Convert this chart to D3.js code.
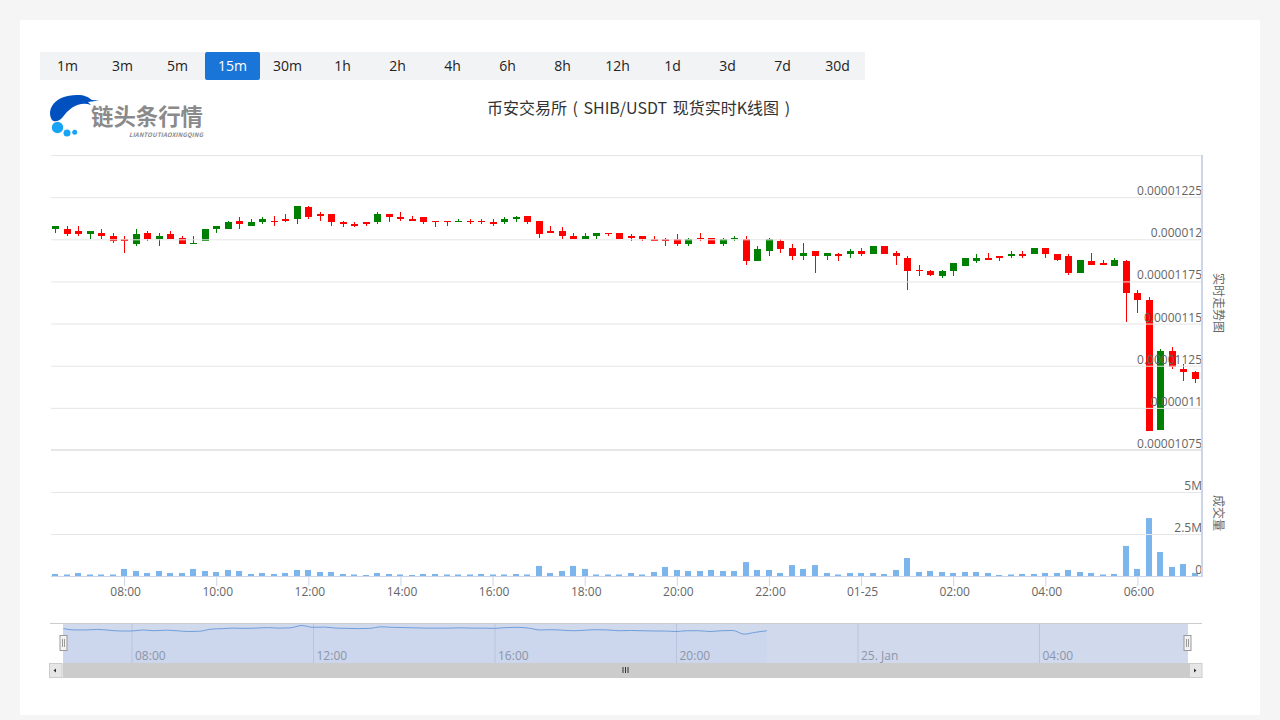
<!DOCTYPE html>
<html>
  <head>
    <meta charset="utf-8" />
    <script src="https://cdn.jsdelivr.net/npm/d3@7/dist/d3.min.js"></script>
    <style>
      * {
        margin: 0;
        padding: 0;
      }
      body {
        width: 1280px;
        height: 720px;
        overflow: hidden;
        background-color: #f5f5f5;
        font-family: "Noto Sans CJK SC", "Noto Sans", sans-serif;
      }
      .panel {
        position: absolute;
        left: 20px;
        top: 20px;
        width: 1240px;
        height: 695px;
        background-color: white;
      }
      .tabs {
        position: absolute;
        left: 40px;
        top: 52px;
        display: flex;
        background-color: #f2f3f5;
      }
      .tab {
        width: 55px;
        height: 28px;
        line-height: 28px;
        text-align: center;
        font-family: "Open Sans", sans-serif;
        font-size: 14px;
        color: #222;
      }
      .tab.active {
        background-color: #1976d8;
        color: white;
        border-radius: 2px;
      }
      #chart {
        position: absolute;
        left: 0;
        top: 0;
      }
    </style>
  </head>
  <body>
    <div class="panel"></div>
    <div class="tabs" id="tabs"></div>
    <svg id="chart" width="1280" height="720"></svg>

    <script>
      const intervals = ["1m", "3m", "5m", "15m", "30m", "1h", "2h", "4h", "6h", "8h", "12h", "1d", "3d", "7d", "30d"];
      const activeInterval = "15m";

      // prices are in 1e-8 USDT, one candle every 15 minutes
      const opens = [
        1206, 1206, 1205, 1203, 1204, 1202, 1200, 1197, 1204, 1200,
        1203, 1201, 1197, 1199, 1206, 1206, 1211, 1208, 1210, 1211,
        1212, 1212, 1219, 1215, 1215, 1210, 1209, 1210, 1210, 1215,
        1213, 1212, 1213, 1211, 1211, 1210, 1211, 1211, 1210, 1210,
        1212, 1214, 1211, 1205, 1205, 1202, 1200, 1202, 1204, 1204,
        1202, 1202, 1200, 1200, 1200, 1197, 1201, 1201, 1197, 1200,
        1200, 1187, 1193, 1199, 1195, 1190, 1193, 1190, 1191, 1191,
        1193, 1191, 1196, 1192, 1189, 1182, 1181, 1178, 1181, 1184,
        1187, 1189, 1190, 1190, 1191, 1191, 1195, 1191, 1190, 1180,
        1187, 1186, 1184, 1187, 1168, 1164, 1087, 1134, 1123, 1121,
      ];
      const highs = [
        1208, 1208, 1208, 1205, 1206, 1204, 1202, 1206, 1205, 1204,
        1205, 1202, 1202, 1206, 1208, 1211, 1213, 1212, 1213, 1214,
        1215, 1220, 1220, 1216, 1215, 1211, 1210, 1210, 1216, 1215,
        1216, 1214, 1213, 1211, 1211, 1212, 1212, 1212, 1212, 1213,
        1214, 1214, 1211, 1208, 1207, 1204, 1204, 1204, 1204, 1204,
        1203, 1202, 1202, 1201, 1203, 1201, 1204, 1201, 1201, 1202,
        1202, 1196, 1201, 1200, 1197, 1198, 1193, 1192, 1192, 1194,
        1195, 1196, 1196, 1193, 1190, 1185, 1182, 1182, 1186, 1189,
        1191, 1192, 1190, 1193, 1193, 1195, 1195, 1191, 1191, 1188,
        1192, 1188, 1189, 1188, 1170, 1166, 1135, 1136, 1126, 1122,
      ];
      const lows = [
        1204, 1202, 1202, 1200, 1200, 1198, 1192, 1196, 1199, 1196,
        1200, 1197, 1197, 1199, 1204, 1206, 1206, 1208, 1209, 1208,
        1210, 1209, 1212, 1211, 1208, 1207, 1207, 1208, 1209, 1210,
        1211, 1211, 1209, 1207, 1208, 1210, 1209, 1209, 1208, 1209,
        1210, 1209, 1201, 1204, 1200, 1200, 1200, 1200, 1202, 1200,
        1199, 1199, 1199, 1196, 1196, 1196, 1199, 1197, 1196, 1199,
        1185, 1187, 1190, 1192, 1188, 1188, 1180, 1188, 1187, 1189,
        1190, 1191, 1191, 1185, 1170, 1178, 1178, 1177, 1178, 1184,
        1186, 1188, 1187, 1189, 1189, 1191, 1189, 1187, 1179, 1180,
        1185, 1185, 1184, 1151, 1156, 1086, 1087, 1123, 1116, 1115,
      ];
      const closes = [
        1208, 1203, 1203, 1205, 1202, 1199, 1199, 1203, 1200, 1202,
        1200, 1197, 1198, 1206, 1208, 1210, 1209, 1210, 1212, 1210,
        1211, 1220, 1213, 1214, 1210, 1209, 1208, 1209, 1215, 1213,
        1212, 1211, 1210, 1210, 1210, 1211, 1210, 1210, 1209, 1212,
        1213, 1210, 1203, 1204, 1202, 1200, 1202, 1204, 1203, 1200,
        1201, 1200, 1199, 1199, 1197, 1200, 1200, 1197, 1200, 1201,
        1187, 1194, 1200, 1194, 1190, 1192, 1190, 1192, 1190, 1193,
        1191, 1196, 1191, 1190, 1181, 1181, 1179, 1181, 1186, 1189,
        1189, 1188, 1189, 1191, 1190, 1195, 1191, 1188, 1180, 1188,
        1185, 1185, 1188, 1168, 1164, 1086, 1134, 1124, 1121, 1117,
      ];
      // volume in millions
      const volumes = [
        0.12, 0.09, 0.18, 0.09, 0.09, 0.09, 0.42, 0.3, 0.18, 0.3,
        0.18, 0.18, 0.42, 0.3, 0.24, 0.36, 0.3, 0.12, 0.18, 0.12,
        0.18, 0.36, 0.36, 0.24, 0.24, 0.12, 0.09, 0.06, 0.18, 0.12,
        0.09, 0.06, 0.12, 0.12, 0.09, 0.09, 0.09, 0.12, 0.09, 0.09,
        0.12, 0.09, 0.6, 0.18, 0.3, 0.6, 0.42, 0.09, 0.09, 0.09,
        0.18, 0.09, 0.24, 0.54, 0.36, 0.3, 0.3, 0.36, 0.3, 0.3,
        0.83, 0.36, 0.36, 0.18, 0.65, 0.42, 0.65, 0.18, 0.09, 0.18,
        0.18, 0.18, 0.12, 0.36, 1.07, 0.24, 0.3, 0.24, 0.18, 0.24,
        0.24, 0.18, 0.06, 0.09, 0.12, 0.12, 0.18, 0.18, 0.36, 0.24,
        0.18, 0.09, 0.12, 1.79, 0.42, 3.45, 1.43, 0.54, 0.71, 0.18,
      ];
      const priceTicks = [1075, 1100, 1125, 1150, 1175, 1200, 1225, 1250];
      const volumeTicks = [0, 2.5, 5];
      const titleText = "币安交易所 ( SHIB/USDT 现货实时K线图 )";

      const axisFont = '"Open Sans", sans-serif';

      const times = d3.timeMinute.range(new Date(2021, 0, 24, 6, 30), new Date(2021, 0, 25, 7, 30), 15);
      const candles = times.map((t, i) => ({
        t: t,
        o: opens[i],
        h: highs[i],
        l: lows[i],
        c: closes[i],
        v: volumes[i],
      }));

      d3.select("#tabs")
        .selectAll("div")
        .data(intervals)
        .enter()
        .append("div")
        .attr("class", (d) => (d == activeInterval ? "tab active" : "tab"))
        .text((d) => d);

      const svg = d3.select("#chart");
      const left = 51;
      const right = 1202;

      const x = d3
        .scaleTime()
        .domain([times[0], times[times.length - 1]])
        .range([55, 1195]);
      const y = d3.scaleLinear().domain([1075, 1250]).range([450, 155]);
      const yVol = d3.scaleLinear().domain([0, 5]).range([576, 492]);
      const crisp = (v) => Math.round(v) + 0.5;

      // title
      svg
        .append("text")
        .attr("x", 638.5)
        .attr("y", 114)
        .attr("text-anchor", "middle")
        .attr("font-size", 16)
        .attr("word-spacing", 2)
        .attr("fill", "#333")
        .text(titleText);

      // logo
      const logo = svg.append("g");
      logo
        .append("path")
        .attr("d", "M52,120 C46,110 54,95 77,95 C85,95 88,97 92,100 L99,100.5 L88,102 L91,105 C80,101 70,107 62,118 C58,122 54,122 52,120 Z")
        .attr("fill", "#0050c0");
      logo
        .selectAll("circle")
        .data([[57.5, 127.5, 5.7], [67, 133, 3.5], [74.7, 132.3, 2.5]])
        .enter()
        .append("circle")
        .attr("cx", (d) => d[0])
        .attr("cy", (d) => d[1])
        .attr("r", (d) => d[2])
        .attr("fill", "#18a4f6");
      logo
        .append("text")
        .attr("x", 91)
        .attr("y", 125)
        .attr("font-size", 22.4)
        .attr("font-weight", 700)
        .attr("fill", "#8a8a8a")
        .text("链头条行情");
      logo
        .append("text")
        .attr("x", 129)
        .attr("y", 136.5)
        .attr("font-size", 6)
        .attr("font-weight", 700)
        .attr("font-style", "italic")
        .attr("fill", "#8a8a8a")
        .attr("textLength", 74)
        .text("LIANTOUTIAOXINGQING");

      // grid + price labels
      const priceAxis = d3
        .axisLeft(y)
        .tickValues(priceTicks)
        .tickSize(right - left)
        .tickFormat((d) => (d == 1250 ? "" : (d / 1e8).toFixed(8).replace(/0+$/, "")));
      const gPrice = svg
        .append("g")
        .attr("transform", "translate(" + right + ",0)")
        .call(priceAxis);
      const volAxis = d3
        .axisLeft(yVol)
        .tickValues(volumeTicks)
        .tickSize(right - left)
        .tickFormat((d) => (d == 0 ? "0" : d + "M"));
      const gVol = svg
        .append("g")
        .attr("transform", "translate(" + right + ",0)")
        .call(volAxis);
      [gPrice, gVol].forEach((g) => {
        g.select(".domain").remove();
        g.selectAll(".tick line").attr("stroke", "#e6e6e6");
      });

      // volume bars
      svg
        .append("g")
        .selectAll("rect")
        .data(candles)
        .enter()
        .append("rect")
        .attr("x", (d) => crisp(x(d.t)) - 3.5)
        .attr("y", (d) => yVol(d.v))
        .attr("width", 6)
        .attr("height", (d) => yVol(0) - yVol(d.v))
        .attr("fill", "#7cb5ec");

      // candles
      const candle = svg.append("g").selectAll("g").data(candles).enter().append("g");
      const candleColor = (d) => (d.c >= d.o ? "#008000" : "#ff0000");
      candle
        .append("line")
        .attr("x1", (d) => crisp(x(d.t)))
        .attr("x2", (d) => crisp(x(d.t)))
        .attr("y1", (d) => Math.round(y(d.h)))
        .attr("y2", (d) => Math.round(y(d.l)))
        .attr("stroke", candleColor);
      candle
        .append("rect")
        .attr("x", (d) => crisp(x(d.t)) - 3.5)
        .attr("y", (d) => Math.round(y(Math.max(d.o, d.c))))
        .attr("width", 7)
        .attr("height", (d) => Math.max(1, Math.round(y(Math.min(d.o, d.c))) - Math.round(y(Math.max(d.o, d.c)))))
        .attr("fill", candleColor);

      // labels sit over the marks, right aligned just above their grid line
      [gPrice, gVol].forEach((g) => {
        g.raise();
        g.selectAll(".tick line").lower();
        g.selectAll(".tick text")
          .attr("x", 0)
          .attr("dy", "-2.5")
          .attr("text-anchor", "end")
          .attr("font-size", 12)
          .attr("font-family", axisFont)
          .attr("fill", "#666");
      });

      // pane separators and right axis line
      svg.append("line").attr("x1", left).attr("x2", right).attr("y1", 450).attr("y2", 450).attr("stroke", "#e6e6e6").attr("stroke-width", 2);
      svg.append("line").attr("x1", right).attr("x2", right).attr("y1", 155).attr("y2", 577).attr("stroke", "#ccd6eb").attr("stroke-width", 2);

      // time axis
      const timeAxis = d3
        .axisBottom(x)
        .ticks(d3.timeHour.every(2))
        .tickSize(10)
        .tickPadding(1)
        .tickFormat((d) => (d.getHours() == 0 ? "01-25" : d3.timeFormat("%H:%M")(d)));
      const gTime = svg.append("g").attr("transform", "translate(0,576)").call(timeAxis);
      gTime.select(".domain").attr("d", "M" + left + ",0.5H" + right).attr("stroke", "#ccd6eb").attr("stroke-width", 1);
      gTime.selectAll(".tick line").attr("stroke", "#ccd6eb");
      gTime.selectAll(".tick text").attr("dx", 1).attr("font-size", 12).attr("font-family", axisFont).attr("fill", "#666");

      // rotated axis titles
      [["实时走势图", 303], ["成交量", 513]].forEach((d) => {
        svg
          .append("text")
          .attr("transform", "translate(1214," + d[1] + ") rotate(90)")
          .attr("text-anchor", "middle")
          .attr("font-size", 12)
          .attr("fill", "#666")
          .text(d[0]);
      });

      // navigator, same data on its own scale
      const navTop = 624;
      const navBottom = 663;
      const navX = d3
        .scaleTime()
        .domain([new Date(2021, 0, 24, 8), new Date(2021, 0, 25, 4)])
        .range([131.5, 1039]);
      const navY = d3.scaleLinear().domain([1086, 1220]).range([660.5, 625.5]);
      const navData = candles.slice(0, 63);

      svg.append("rect").attr("x", 63).attr("y", navTop).attr("width", 1125).attr("height", navBottom - navTop).attr("fill", "#d1d9ed");
      svg
        .append("path")
        .datum(navData)
        .attr("fill", "#7cb5ec")
        .attr("fill-opacity", 0.05)
        .attr("d", d3.area().x((d) => navX(d.t)).y0(navBottom).y1((d) => navY(d.c)).curve(d3.curveMonotoneX));

      const navAxis = d3
        .axisBottom(navX)
        .ticks(d3.timeHour.every(4))
        .tickSize(navBottom - navTop)
        .tickPadding(0)
        .tickFormat((d) => (d.getHours() == 0 ? "25. Jan" : d3.timeFormat("%H:%M")(d)));
      const gNav = svg.append("g").attr("transform", "translate(0," + navTop + ")").call(navAxis);
      gNav.select(".domain").remove();
      gNav.selectAll(".tick line").attr("stroke", "#b9c4dc");
      gNav
        .selectAll(".tick text")
        .attr("x", 3)
        .attr("y", 36)
        .attr("dy", 0)
        .attr("text-anchor", "start")
        .attr("font-size", 12)
        .attr("font-family", axisFont)
        .attr("fill", "#8d95a8");

      svg
        .append("path")
        .datum(navData)
        .attr("fill", "none")
        .attr("stroke", "#6f9fdc")
        .attr("stroke-width", 1)
        .attr("d", d3.line().x((d) => navX(d.t)).y((d) => navY(d.c)).curve(d3.curveMonotoneX));

      svg.append("line").attr("x1", 50).attr("x2", right).attr("y1", navTop - 0.5).attr("y2", navTop - 0.5).attr("stroke", "#ccc");

      // scrollbar
      svg.append("rect").attr("x", 50).attr("y", navBottom).attr("width", right - 50).attr("height", 15).attr("fill", "#f2f2f2");
      svg.append("rect").attr("x", 63).attr("y", navBottom).attr("width", 1126).attr("height", 15).attr("fill", "#cccccc");
      [[49.5, "M56,668.5 L53.5,670.5 L56,672.5 Z"], [1189.5, "M1194,668.5 L1196.5,670.5 L1194,672.5 Z"]].forEach((d) => {
        svg.append("rect").attr("x", d[0]).attr("y", navBottom + 0.5).attr("width", 12.5).attr("height", 14).attr("fill", "#e6e6e6").attr("stroke", "#ccc");
        svg.append("path").attr("d", d[1]).attr("fill", "#333");
      });
      [623, 625.5, 628].forEach((gx) => {
        svg.append("line").attr("x1", gx).attr("x2", gx).attr("y1", 667).attr("y2", 673).attr("stroke", "#333");
      });

      // navigator handles
      [63.5, 1187.5].forEach((hx) => {
        svg.append("rect").attr("x", hx - 3.5).attr("y", 635.5).attr("width", 7).attr("height", 15).attr("fill", "#f2f2f2").attr("stroke", "#999");
        [-1, 1].forEach((o) => {
          svg.append("line").attr("x1", hx + o).attr("x2", hx + o).attr("y1", 639).attr("y2", 647).attr("stroke", "#999");
        });
      });
    </script>
  </body>
</html>
